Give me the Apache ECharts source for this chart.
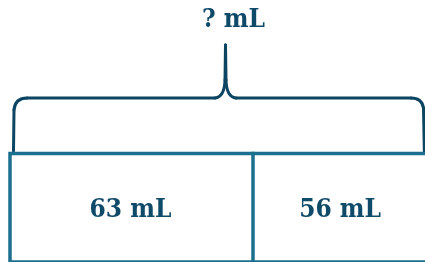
<!DOCTYPE html>
<html>
<head>
<meta charset="utf-8">
<script src="https://cdn.jsdelivr.net/npm/echarts@6/dist/echarts.min.js"></script>
<style>
  html, body { margin: 0; padding: 0; background: #fff; }
  #chart { width: 425px; height: 262px; }
</style>
</head>
<body>
<div id="chart"></div>
<script>
// tape diagram data
var categories = ['tape'];
var partNames = ['part1', 'part2'];
var partValues = [63, 56];
var unit = 'mL';
var totalText = '?';

var FONT = "'DejaVu Serif Condensed', 'DejaVu Serif', serif";
var BOX = '#1b6f8f';
var INK = '#0f4a68';
var BRACE = '#0b4561';

var total = partValues.reduce(function (a, b) { return a + b; }, 0);

var chart = echarts.init(document.getElementById('chart'));

// outline of the whole tape + divider between the parts
var outline = {
    name: 'total',
    type: 'bar',
    barWidth: '100%',
    barGap: '-100%',
    silent: true,
    z: 1,
    itemStyle: { color: '#ffffff', borderColor: BOX, borderWidth: 3.5 },
    markLine: {
        silent: true,
        symbol: 'none',
        label: { show: false },
        lineStyle: { color: BOX, width: 3.5, type: 'solid' },
        data: [{ xAxis: partValues[0] }]
    },
    data: [total]
};

// parts: invisible stacked bars that carry the labels
var parts = partValues.map(function (v, i) {
    return {
        name: partNames[i],
        type: 'bar',
        stack: 'tape',
        barWidth: '100%',
        barGap: '-100%',
        silent: true,
        z: 2,
        itemStyle: { color: 'rgba(0,0,0,0)' },
        label: {
            show: true,
            position: 'inside',
            offset: i === 1 ? [-21, 2.5] : [0, 2.5],
            formatter: '{c} ' + unit,
            fontFamily: FONT,
            fontWeight: 'bold',
            fontSize: 26,
            color: INK
        },
        data: [v]
    };
});

// brace pieces (plain decoration, pixel positions)
var braceStyle = { stroke: BRACE, lineWidth: 3, lineCap: 'round', fill: null };
function seg(x1, y1, x2, y2) {
    return { type: 'line', silent: true, shape: { x1: x1, y1: y1, x2: x2, y2: y2 }, style: braceStyle };
}
function curve(x1, y1, cx, cy, x2, y2) {
    return { type: 'bezierCurve', silent: true,
        shape: { x1: x1, y1: y1, cpx1: cx, cpy1: cy, x2: x2, y2: y2 }, style: braceStyle };
}
var brace = [
    seg(13.5, 151, 14, 110),
    curve(14, 110, 15, 98, 27, 98),
    seg(27, 98, 215, 98),
    curve(215, 98, 224.5, 97, 225, 80),
    seg(225, 80, 225.5, 45),
    seg(225.5, 45, 226, 80),
    curve(226, 80, 226.5, 97, 236, 98),
    seg(236, 98, 411, 98),
    curve(411, 98, 422, 98, 423.5, 108),
    seg(423.5, 108, 424.5, 160)
];

var option = {
    animation: false,
    grid: { left: 8.25, top: 151.75, width: 461.4, height: 112, outerBoundsMode: 'none', containLabel: false },
    xAxis: { type: 'value', min: 0, max: total, show: false },
    yAxis: { type: 'category', data: categories, show: false },
    series: [outline].concat(parts),
    graphic: brace.concat([
        {
            type: 'text',
            silent: true,
            x: 233.5,
            y: 20,
            style: {
                text: totalText + ' ' + unit,
                align: 'center',
                verticalAlign: 'middle',
                fontFamily: FONT,
                fontWeight: 'bold',
                fontSize: 26,
                fill: INK
            }
        }
    ])
};

chart.setOption(option);
</script>
</body>
</html>
